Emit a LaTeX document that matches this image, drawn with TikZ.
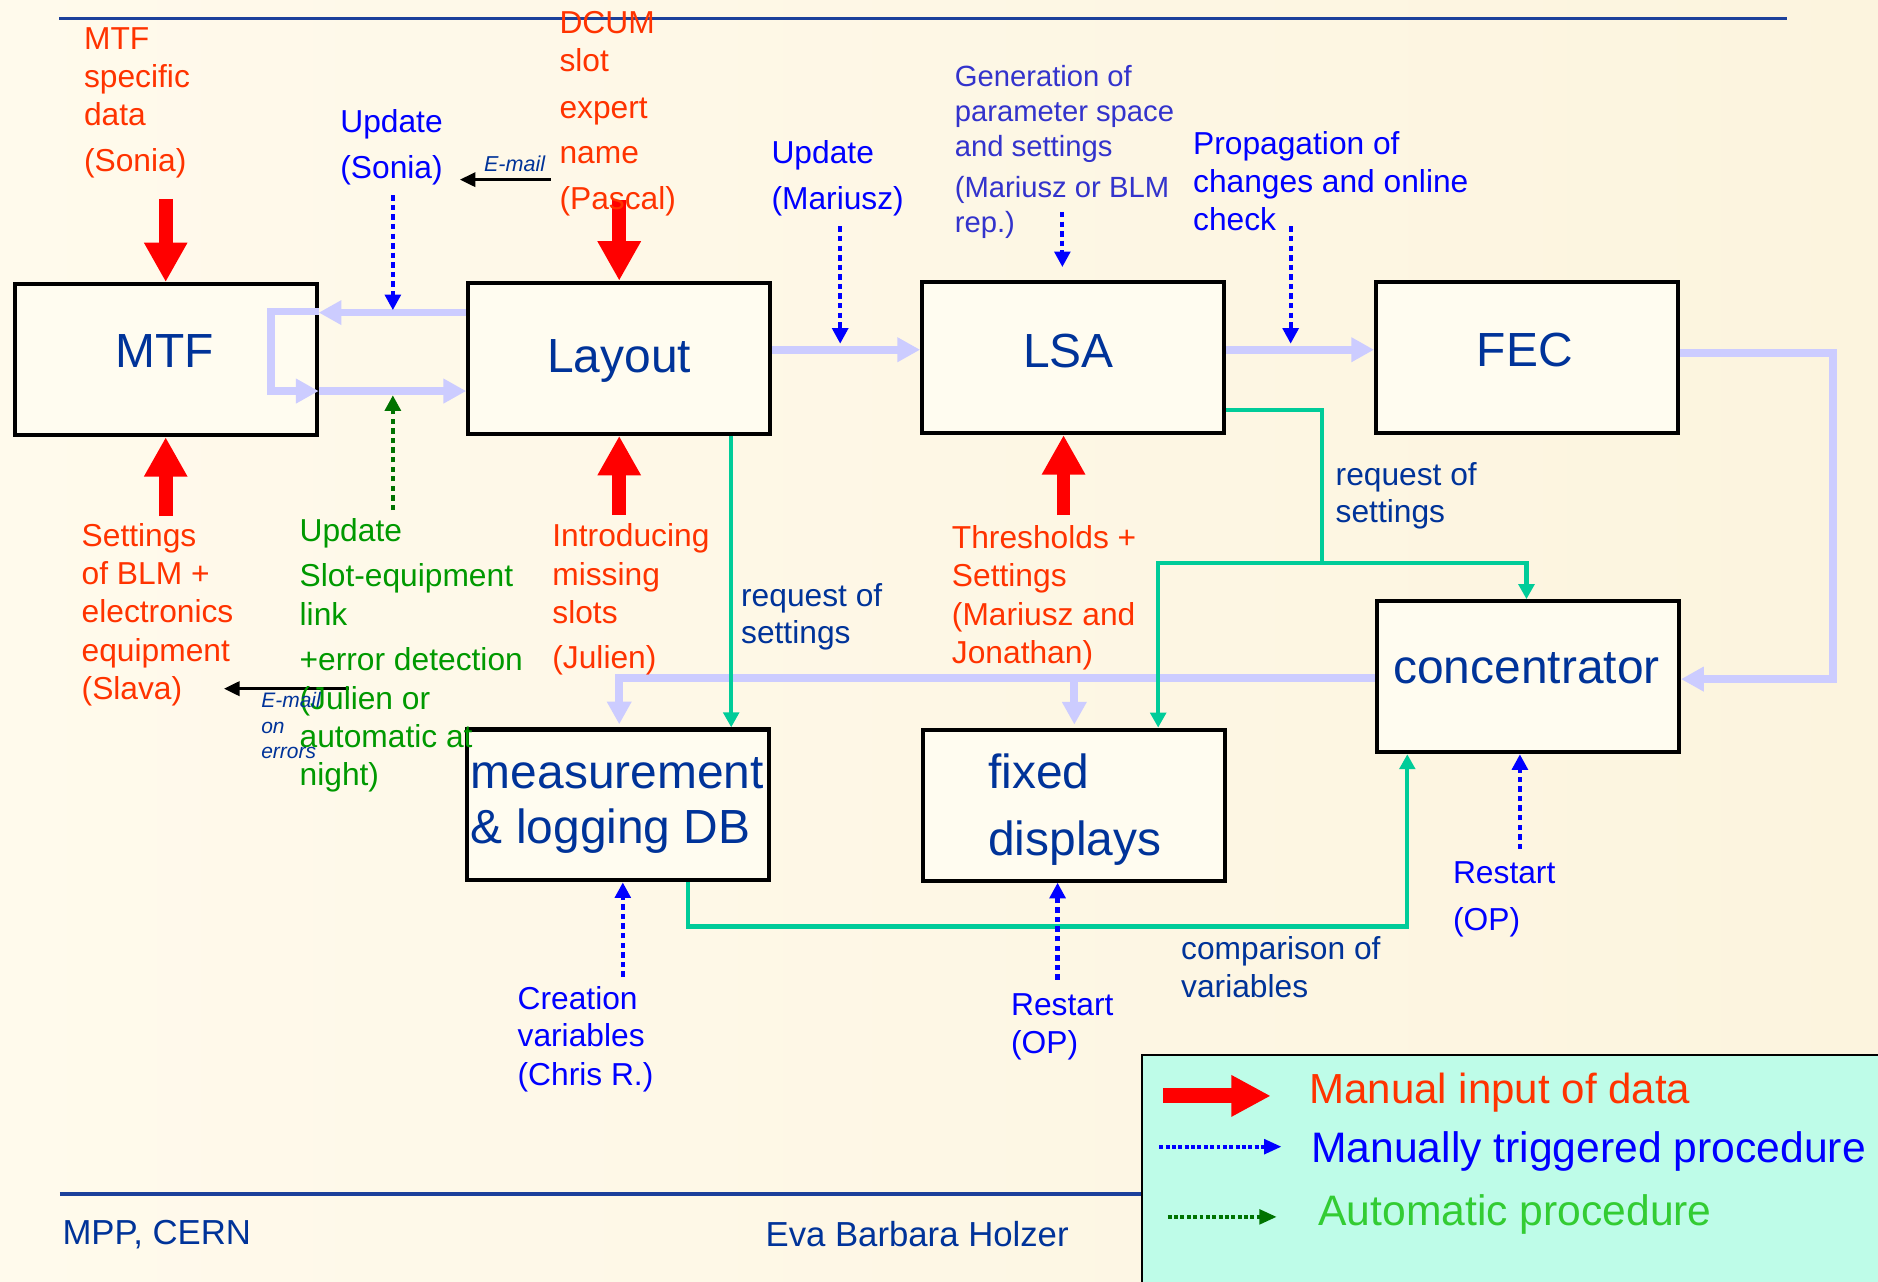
\documentclass[tikz,border=0pt]{standalone}
\usepackage{fontspec}
\setmainfont{Liberation Sans}
\usetikzlibrary{arrows.meta}
\definecolor{bgl}{RGB}{255,250,236}
\definecolor{bgr}{RGB}{252,244,222}
\definecolor{boxfill}{RGB}{255,252,240}
\definecolor{redtxt}{RGB}{255,51,0}
\definecolor{arrred}{RGB}{255,0,0}
\definecolor{bluetxt}{RGB}{0,0,255}
\definecolor{gentxt}{RGB}{51,51,204}
\definecolor{navyc}{RGB}{0,51,153}
\definecolor{greentxt}{RGB}{0,153,0}
\definecolor{dkgreen}{RGB}{0,115,0}
\definecolor{tealc}{RGB}{0,204,153}
\definecolor{lavc}{RGB}{204,204,255}
\definecolor{rulec}{RGB}{28,64,155}
\definecolor{mint}{RGB}{190,252,232}
\definecolor{ltgreen}{RGB}{51,204,51}
\newcommand\stk[1]{\vtop{\lineskiplimit=-\maxdimen\lineskip=0pt\relax#1}}
\begin{document}
\begin{tikzpicture}[x=1pt,y=-1pt,
  box/.style={draw=black,line width=3.5pt,fill=boxfill,minimum width=252pt,minimum height=126pt,inner sep=0pt},
  txt/.style={inner sep=0pt,anchor=base west,font=\fontsize{26.5}{32}\selectfont},
  redt/.style={txt,text=redtxt},
  bluet/.style={txt,text=bluetxt},
  navyt/.style={txt,text=navyc},
  greent/.style={txt,text=greentxt},
  emt/.style={inner sep=0pt,anchor=base west,font=\fontsize{18}{21}\selectfont\itshape,text=navyc},
  boxlbl/.style={inner sep=0pt,anchor=base,font=\fontsize{40}{46}\selectfont,text=navyc},
  lavarr/.style={draw=lavc,line width=6.5pt,-{Triangle[length=19pt,width=19.5pt]}},
  redarr/.style={draw=arrred,line width=11.5pt,-{Triangle[length=33pt,width=34pt]}},
  bluedot/.style={draw=bluetxt,line width=3.5pt,dash pattern=on 4.5pt off 3.5pt,-{Triangle[length=13pt,width=13pt]}},
  greendot/.style={draw=dkgreen,line width=3.5pt,dash pattern=on 4.5pt off 3.5pt,-{Triangle[length=13pt,width=13pt]}},
  tealarr/.style={draw=tealc,line width=3.5pt,-{Triangle[length=12.5pt,width=13pt]}},
  tealline/.style={draw=tealc,line width=3.5pt},
  blkarr/.style={draw=black,line width=2.2pt,-{Triangle[length=13pt,width=12pt]}},
  rule/.style={draw=rulec,line width=3pt}
]
\shade[left color=bgl,right color=bgr] (0,0) rectangle (1568,1070);
\useasboundingbox (0,0) rectangle (1568,1070);

% rules
\draw[rule] (49.5,15.3) -- (1492,15.3);
\draw[rule] (50,997) -- (960,997);

% boxes
\node[box] (MTF) at (138.35,300.25) {};
\node[box] (Layout) at (517,299.15) {};
\node[box] (LSA) at (896,298.5) {};
\node[box] (FEC) at (1275,298.5) {};
\node[box] (conc) at (1275.75,565) {};
\node[box] (meas) at (515.75,672) {};
\node[box] (fixed) at (896.85,672.25) {};

\node[boxlbl] (MTFt) at (137.5,307) {MTF};
\node[boxlbl] (Layoutt) at (517,311) {Layout};
\node[boxlbl] (LSAt) at (892,306.5) {LSA};
\node[boxlbl] (FECt) at (1273,306) {FEC};
\node[boxlbl] (conct) at (1274.5,570.5) {concentrator};
\node[boxlbl,anchor=base west] (meast) at (393,658) {\stk{\hbox{measurement}\hbox{\& logging DB}}};
\node[boxlbl,anchor=base west] (fixedt) at (825,658) {\stk{\hbox{fixed}\vskip10pt\hbox{displays}}};

% lavender flows
\draw[lavarr] (Layout.west |- 0,261) -- (MTF.east |- 0,261);
\draw[lavarr] (MTF.east |- 0,260) -- (226.5,260) -- (226.5,326.5) -- (MTF.east |- 0,326.5);
\draw[lavarr] (MTF.east |- 0,326.5) -- (Layout.west |- 0,326.5);
\draw[lavarr] (Layout.east |- 0,292) -- (LSA.west |- 0,292);
\draw[lavarr] (LSA.east |- 0,292) -- (FEC.west |- 0,292);
\draw[lavarr] (FEC.east |- 0,294.5) -- (1530.7,294.5) -- (1530.7,567) -- (conc.east |- 0,567);
\draw[lavarr,shorten >=2.5pt] (conc.west |- 0,566) -- (517,566) -- (meas.north -| 517,0);
\coordinate (lj) at (897,566);
\draw[lavarr,shorten >=2.5pt] (lj) -- (fixed.north -| 897,0);

% teal flows
\draw[tealarr] (Layout.south -| 610.5,0) -- (meas.north -| 610.5,0);
\coordinate (tj) at (1104,470);
\draw[tealline] (LSA.east |- 0,342) -- (1104,342) -- (tj);
\draw[tealarr] (tj) -- (1274.5,470) -- (conc.north -| 1274.5,0);
\draw[tealarr] (tj) -- (967,470) -- (fixed.north -| 967,0);
\draw[tealarr] (meas.south -| 574.5,0) -- (574.5,773.5) -- (1175,773.5) -- (conc.south -| 1175,0);

% red manual input arrows
\coordinate (rA) at (138.35,166);
\coordinate (rB) at (517,167);
\coordinate (rC) at (138.35,431);
\coordinate (rD) at (517,430);
\coordinate (rE) at (888,430);
\draw[redarr] (rA) -- (MTF.north);
\draw[redarr] (rB) -- (Layout.north);
\draw[redarr] (rC) -- (MTF.south);
\draw[redarr] (rD) -- (Layout.south);
\draw[redarr] (rE) -- (LSA.south -| rE);

% dotted procedure arrows
\coordinate (dA0) at (328,163);   \coordinate (dA1) at (328,259);
\coordinate (dB0) at (701.5,189); \coordinate (dB1) at (701.5,287);
\coordinate (dC0) at (887,177);   \coordinate (dC1) at (887,223);
\coordinate (dD0) at (1077.6,189);\coordinate (dD1) at (1077.6,287);
\coordinate (dE0) at (520,815.5);
\coordinate (dF0) at (883,818);
\coordinate (dG0) at (1269,709);
\coordinate (gA0) at (328,426);   \coordinate (gA1) at (328,330);
\draw[bluedot] (dA0) -- (dA1);
\draw[bluedot] (dB0) -- (dB1);
\draw[bluedot] (dC0) -- (dC1);
\draw[bluedot] (dD0) -- (dD1);
\draw[bluedot] (dE0) -- (meas.south -| dE0);
\draw[bluedot] (dF0) -- (fixed.south -| dF0);
\draw[bluedot] (dG0) -- (conc.south -| dG0);
\draw[greendot] (gA0) -- (gA1);

% e-mail arrows
\coordinate (eA0) at (460,150); \coordinate (eA1) at (384,150);
\coordinate (eB0) at (291,575); \coordinate (eB1) at (187,575);
\draw[blkarr] (eA0) -- (eA1);
\draw[blkarr] (eB0) -- (eB1);

% texts
\node[redt] (mtfdata) at (70,41) {\stk{\hbox{MTF}\hbox{specific}\hbox{data}\vskip6.5pt\hbox{(Sonia)}}};
\node[redt] (dcum) at (467,28) {\stk{\hbox{DCUM}\hbox{slot}\vskip7pt\hbox{expert}\vskip5.5pt\hbox{name}\vskip6.5pt\hbox{(Pascal)}}};
\node[redt] (slava) at (68,456) {\stk{\hbox{Settings}\hbox{of BLM +}\hbox{electronics}\hbox{equipment}\hbox{(Slava)}}};
\node[redt] (intro) at (461,456.5) {\stk{\hbox{Introducing}\hbox{missing}\hbox{slots}\vskip6pt\hbox{(Julien)}}};
\node[redt] (thresh) at (794.6,458) {\stk{\hbox{Thresholds +}\hbox{Settings}\hbox{(Mariusz and}\hbox{Jonathan)}}};

\node[bluet] (updS) at (284,111) {\stk{\hbox{Update}\vskip6pt\hbox{(Sonia)}}};
\node[bluet] (updM) at (644,136.5) {\stk{\hbox{Update}\vskip6.5pt\hbox{(Mariusz)}}};
\node[bluet] (prop) at (996,128.6) {\stk{\hbox{Propagation of}\hbox{changes and online}\hbox{check}}};
\node[bluet] (creat) at (432,843) {\stk{\hbox{Creation}\vskip-1pt\hbox{variables}\hbox{(Chris R.)}}};
\node[bluet] (rest1) at (844,847.5) {\stk{\hbox{Restart}\hbox{(OP)}}};
\node[bluet] (rest2) at (1213,737.5) {\stk{\hbox{Restart}\vskip7pt\hbox{(OP)}}};
\node[txt,text=gentxt,font=\fontsize{24.4}{29.5}\selectfont] (gen) at (797,72) {\stk{\hbox{Generation of}\hbox{parameter space}\hbox{and settings}\vskip4pt\hbox{(Mariusz or BLM}\hbox{rep.)}}};

\node[navyt] (req1) at (618.6,506.5) {\stk{\hbox{request of}\vskip-1.5pt\hbox{settings}}};
\node[navyt] (req2) at (1115,405) {\stk{\hbox{request of}\vskip-1pt\hbox{settings}}};
\node[navyt] (comp) at (986,801.5) {\stk{\hbox{comparison of}\vskip-0.5pt\hbox{variables}}};

\node[greent] (slot) at (250,452) {\stk{\hbox{Update}\vskip6pt\hbox{Slot-equipment}\hbox{link}\vskip6pt\hbox{+error detection}\hbox{(Julien or}\hbox{automatic at}\hbox{night)}}};

\node[emt] (em1) at (404,143) {E-mail};
\node[emt,font=\fontsize{17.5}{21}\selectfont\itshape] (em2) at (218,591) {\stk{\hbox{E-mail}\hbox{on}\hbox{errors}}};

% footer
\node[navyt,font=\fontsize{29}{34}\selectfont] (mpp) at (52,1039) {MPP, CERN};
\node[navyt,font=\fontsize{29}{34}\selectfont] (eva) at (639,1041) {Eva Barbara Holzer};

% legend
\node[draw=black,line width=1.5pt,fill=mint,anchor=north west,minimum width=630pt,minimum height=200pt,inner sep=0pt] (legend) at (953,880) {};
\coordinate (l1a) at (971,915);   \coordinate (l1b) at (1061,915);
\coordinate (l2a) at (968,957.4); \coordinate (l2b) at (1070,957.4);
\coordinate (l3a) at (975,1016);  \coordinate (l3b) at (1066,1016);
\draw[draw=arrred,line width=12.5pt,-{Triangle[length=33pt,width=32.5pt]}] (l1a) -- (l1b);
\draw[draw=bluetxt,line width=3.3pt,dash pattern=on 3.3pt off 2pt,-{Triangle[length=14.5pt,width=12pt]}] (l2a) -- (l2b);
\draw[draw=dkgreen,line width=3.3pt,dash pattern=on 3.3pt off 2pt,-{Triangle[length=14.5pt,width=12pt]}] (l3a) -- (l3b);
\node[txt,text=redtxt,font=\fontsize{35.1}{40}\selectfont] (lg1) at (1093,921) {Manual input of data};
\node[txt,text=bluetxt,font=\fontsize{35.6}{40}\selectfont] (lg2) at (1094.6,971) {Manually triggered procedure};
\node[txt,text=ltgreen,font=\fontsize{35.6}{40}\selectfont] (lg3) at (1100.5,1023.6) {Automatic procedure};
\end{tikzpicture}
\end{document}
